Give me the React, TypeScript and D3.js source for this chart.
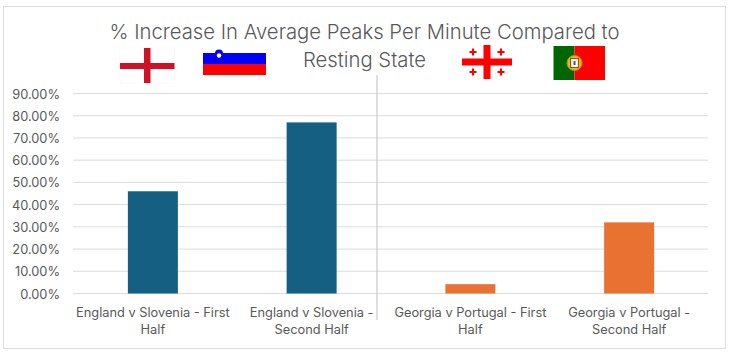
import React from "react";
import * as d3 from "d3";

const categories = [
  ["England v Slovenia - First", "Half"],
  ["England v Slovenia -", "Second Half"],
  ["Georgia v Portugal - First", "Half"],
  ["Georgia v Portugal -", "Second Half"],
];
const values = [46, 77, 4.2, 32];
const barColors = ["#156082", "#156082", "#E97132", "#E97132"];
const ticks = [0, 10, 20, 30, 40, 50, 60, 70, 80, 90];
const titleLines = ["% Increase In Average Peaks Per Minute Compared to", "Resting State"];

const W = 730, H = 353;
const FONT = "Inter, 'Open Sans', sans-serif";
const x = d3.scaleBand<number>().domain(d3.range(4)).range([73.5, 708.5]).paddingInner(0).paddingOuter(0);
const y = d3.scaleLinear().domain([0, 90]).range([293.5, 93.5]);
const barW = x.bandwidth() * 0.315;

function England() {
  return (
    <g transform="translate(120,48)">
      <rect width="54.5" height="35" fill="#fff" stroke="#f4f4f4" strokeWidth="0.5" />
      <rect x="0" y="15" width="54.5" height="6" fill="#CE1124" />
      <rect x="24" y="0" width="6.5" height="35" fill="#CE1124" />
    </g>
  );
}
function Slovenia() {
  return (
    <g transform="translate(203,53)">
      <rect width="63" height="11" fill="#0000FF" />
      <rect y="11" width="63" height="11" fill="#FF0000" />
      <circle cx="16" cy="0.5" r="4" fill="#0000FF" />
      <circle cx="16" cy="2.5" r="2.2" fill="#fff" />
    </g>
  );
}
function Georgia() {
  const small = [[11, 7], [39, 7], [11, 27], [39, 27]];
  return (
    <g transform="translate(462,45)">
      <rect x="0" y="13.5" width="50" height="7" fill="#FF0000" />
      <rect x="21.5" y="0" width="7" height="34" fill="#FF0000" />
      {small.map(([a, b], i) => (
        <g key={i} fill="#FF0000">
          <rect x={a - 3.5} y={b - 1} width="7" height="2" />
          <rect x={a - 1} y={b - 3.5} width="2" height="7" />
        </g>
      ))}
    </g>
  );
}
function Portugal() {
  return (
    <g transform="translate(553.5,46)">
      <rect width="21" height="34" fill="#006600" />
      <rect x="21" width="30.5" height="34" fill="#FF0000" />
      <circle cx="21" cy="17" r="7.5" fill="#D9C400" stroke="#A89020" strokeWidth="1" />
      <rect x="17" y="12.5" width="8" height="9" fill="#fff" stroke="#D03030" strokeWidth="1" />
      <rect x="20" y="15" width="2" height="4" fill="#556" />
    </g>
  );
}

export default function App() {
  return (
    <svg width={W} height={H} viewBox={`0 0 ${W} ${H}`} style={{ position: "absolute", left: 0, top: 0, background: "#fff" }}>
      <rect x="3.5" y="6.5" width="722" height="342" fill="#fff" stroke="#DEDEDE" strokeWidth="1" />
      {ticks.map((t) => (
        <g key={t}>
          <line x1={73} x2={708} y1={y(t)} y2={y(t)} stroke="#DCDCDC" strokeWidth="1" />
          <text x={60} y={y(t) + 5} textAnchor="end" fontFamily={FONT} fontSize="12.8" fill="#595959">
            {t.toFixed(2)}%
          </text>
        </g>
      ))}
      {values.map((v, i) => (
        <rect key={i} x={x(i)! + (x.bandwidth() - barW) / 2} y={y(v)} width={barW} height={y(0) - y(v)} fill={barColors[i]} />
      ))}
      <line x1={377} x2={377} y1={75} y2={320} stroke="#BFBFBF" strokeWidth="1" />
      {categories.map((lines, i) => (
        <text key={i} textAnchor="middle" fontFamily={FONT} fontSize="12.8" fill="#595959">
          {lines.map((l, j) => (
            <tspan key={j} x={x(i)! + x.bandwidth() / 2} y={317 + j * 17}>{l}</tspan>
          ))}
        </text>
      ))}
      <text textAnchor="middle" fontFamily={FONT} fontSize="20.3" fontWeight="300" fill="#595959">
        <tspan x={364.5} y={39}>{titleLines[0]}</tspan>
        <tspan x={364.5} y={67}>{titleLines[1]}</tspan>
      </text>
      <England />
      <Slovenia />
      <Georgia />
      <Portugal />
    </svg>
  );
}
